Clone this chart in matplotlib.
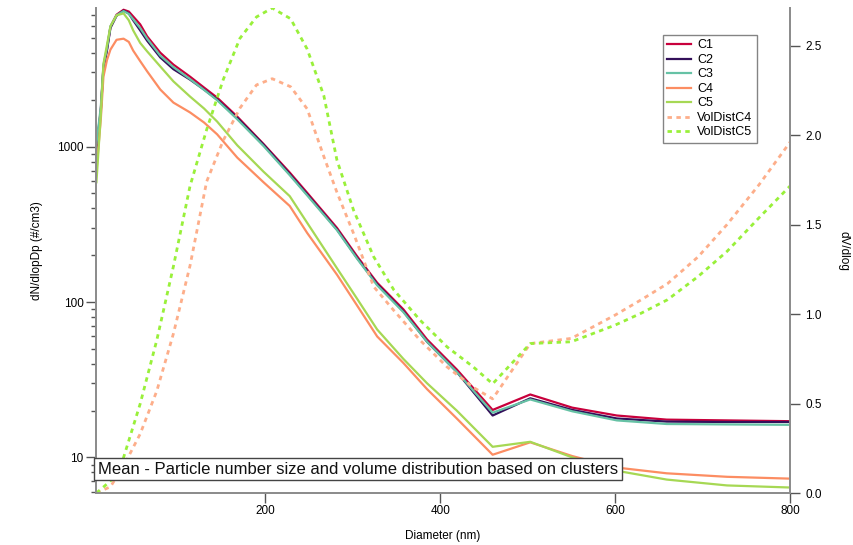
import matplotlib.pyplot as plt
from matplotlib.ticker import LogLocator, MultipleLocator, NullFormatter, FuncFormatter

plt.rcParams['font.family'] = ['Liberation Sans', 'DejaVu Sans']

# Anzahlverteilungen (dN/dlogDp) je Cluster
diam = [7, 12, 15, 19, 23, 30, 38, 44, 49, 57, 65, 80, 95, 114, 130, 145, 168,
        198, 228, 248, 282, 305, 328, 358, 385, 419, 460, 503, 551, 602, 659, 728, 800]

c1 = [1000, 1730, 3270, 4220, 5900, 7060, 7600, 7400, 6880, 6120, 5120, 4020, 3370, 2820, 2400, 2066, 1560,
      1040, 681, 504, 300, 197, 133, 89.6, 57.4, 36.8, 20.2, 25.4, 20.9, 18.6, 17.5, 17.3, 17.1]
c2 = [950, 1700, 3200, 4150, 5800, 6950, 7500, 7200, 6500, 5600, 4800, 3750, 3150, 2700, 2330, 2010, 1530,
      1030, 665, 492, 293, 192, 130, 87, 55.5, 35.5, 18.6, 24.0, 20.2, 17.8, 17.0, 16.9, 16.9]
c3 = [1050, 1800, 3350, 4300, 5950, 7000, 7450, 7150, 6600, 5800, 4950, 3850, 3250, 2720, 2320, 1990, 1500,
      1010, 655, 485, 290, 190, 128, 86, 55.5, 35.5, 19.4, 23.6, 19.8, 17.3, 16.4, 16.3, 16.2]
c4 = [700, 1500, 2820, 3600, 4210, 4870, 4950, 4720, 4150, 3550, 3050, 2330, 1920, 1660, 1430, 1200, 850,
      590, 415, 278, 150, 95, 60, 40.5, 27.5, 17.8, 10.4, 12.5, 10.2, 8.6, 7.9, 7.5, 7.3]
c5 = [590, 1600, 3400, 4500, 5940, 7000, 7200, 6500, 5600, 4650, 4100, 3280, 2630, 2100, 1760, 1450, 1020,
      690, 480, 323, 165, 105, 66.5, 43, 30, 20, 11.7, 12.6, 10, 8.2, 7.2, 6.6, 6.4]

# Volumenverteilungen (dV/dlog)
vd_diam = [7, 23, 38, 57, 76, 95, 114, 133, 152, 171, 190, 208, 229, 248, 267, 282, 301, 324,
           347, 377, 408, 438, 460, 503, 550, 600, 630, 660, 695, 728, 765, 800]
voldist_c4 = [0.0, 0.035, 0.15, 0.33, 0.57, 0.89, 1.27, 1.74, 1.97, 2.15, 2.28, 2.315, 2.27, 2.146, 1.88, 1.68,
              1.45, 1.153, 1.02, 0.854, 0.704, 0.59, 0.526, 0.835, 0.864, 0.994, 1.08, 1.17, 1.32, 1.50, 1.725, 1.96]
voldist_c5 = [0.0, 0.067, 0.198, 0.498, 0.854, 1.266, 1.715, 2.03, 2.31, 2.54, 2.66, 2.71, 2.65, 2.48, 2.22, 1.86,
              1.58, 1.32, 1.135, 0.966, 0.816, 0.704, 0.61, 0.835, 0.845, 0.938, 1.005, 1.08, 1.21, 1.35, 1.54, 1.715]

fig = plt.figure(figsize=(8.54, 5.45), dpi=100)
ax1 = fig.add_axes([96 / 854, 52 / 545, 694 / 854, 485 / 545])

lw = 1.6
l1, = ax1.plot(diam, c1, color='#c8003c', lw=lw, label='C1')
l2, = ax1.plot(diam, c2, color='#33105a', lw=lw, label='C2')
l3, = ax1.plot(diam, c3, color='#66c2a5', lw=lw, label='C3')
l4, = ax1.plot(diam, c4, color='#fc8d62', lw=lw, label='C4')
l5, = ax1.plot(diam, c5, color='#a6d854', lw=lw, label='C5')

ax1.set_yscale('log')
ax1.set_ylim(5.9, 7800)
ax1.set_xlim(6.5, 800)
ax1.yaxis.set_major_locator(LogLocator(base=10))
ax1.yaxis.set_minor_locator(LogLocator(base=10, subs=range(2, 10)))
ax1.yaxis.set_minor_formatter(NullFormatter())
ax1.yaxis.set_major_formatter(FuncFormatter(lambda v, p: '%d' % v))
ax1.xaxis.set_major_locator(MultipleLocator(200))
ax1.set_xlabel('Diameter (nm)', fontsize=8.5, labelpad=9)
ax1.set_ylabel('dN/dlopDp (#/cm3)', fontsize=8.5, labelpad=10)

# Volumen auf zweiter Achse
ax2 = ax1.twinx()
dash = (0, (1.6, 1.6))
l6, = ax2.plot(vd_diam, voldist_c4, color='#fdae8a', lw=2, linestyle=dash, label='VolDistC4')
l7, = ax2.plot(vd_diam, voldist_c5, color='#99f03a', lw=2, linestyle=dash, label='VolDistC5')
ax2.set_ylim(0, 2.71)
ax2.yaxis.set_major_locator(MultipleLocator(0.5))
ax2.yaxis.set_major_formatter(FuncFormatter(lambda v, p: '%.1f' % v))
ax2.set_ylabel('dV/dlog', fontsize=8.5, rotation=270, labelpad=20)

for ax in (ax1, ax2):
    for s in ax.spines.values():
        s.set_color('#8c8c8c')
        s.set_linewidth(1.3)
    ax.tick_params(which='major', direction='out', length=7, width=1, color='#555555',
                   labelsize=8.5, pad=2)
    ax.tick_params(which='minor', direction='out', length=3.5, width=1, color='#555555')
ax2.tick_params(axis='y', pad=4)
ax1.spines['top'].set_visible(False)
ax2.spines['top'].set_visible(False)

lines = [l1, l2, l3, l4, l5, l6, l7]
leg = ax2.legend(lines, [l.get_label() for l in lines], loc='upper left',
                 bbox_to_anchor=(663 / 854, 1 - 35 / 545), bbox_transform=fig.transFigure,
                 borderaxespad=0, fontsize=9, frameon=True, fancybox=False,
                 handlelength=1.9, handletextpad=0.5, labelspacing=0.2, borderpad=0.35)
leg.get_frame().set_edgecolor('#666666')
leg.get_frame().set_linewidth(1)

fig.text(98 / 854, 1 - 469 / 545, 'Mean - Particle number size and volume distribution based on clusters',
         fontsize=12, va='center', ha='left', color='#111111',
         bbox=dict(boxstyle='square,pad=0.22', fc='white', ec='#444444', lw=1))

fig.savefig('out.png', dpi=100)
